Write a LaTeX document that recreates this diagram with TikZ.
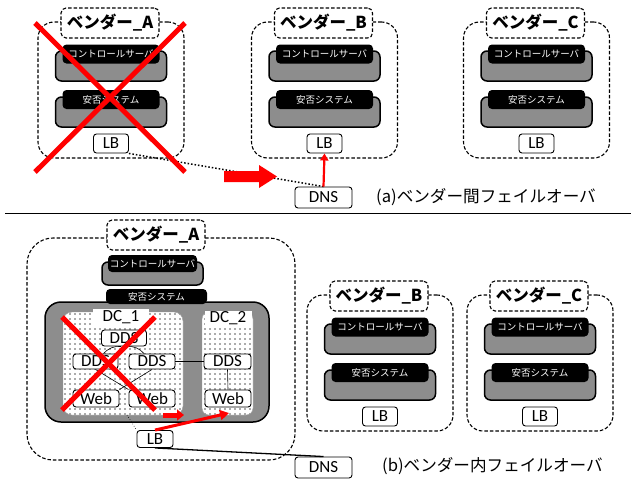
\documentclass[tikz,border=0pt]{standalone}
\usepackage{fontspec}
\setmainfont{Carlito}
\newfontfamily\jp{Noto Sans CJK JP}
\usetikzlibrary{patterns.meta,arrows.meta}
\tikzset{
 vbox/.style={draw, dash pattern=on 3.5pt off 2pt, line width=1.1pt, rounded corners=16pt, inner sep=0pt},
 vlabel/.style={draw, dash pattern=on 3.5pt off 2pt, line width=1.1pt, rounded corners=5pt, fill=white, inner sep=0pt, font=\jp\bfseries\fontsize{16.5}{16.5}\selectfont},
 gblock/.style={draw, line width=1.5pt, rounded corners=6pt, inner sep=0pt, preaction={fill=black!55}, pattern={Dots[radius=0.6pt,distance=2pt]}, pattern color=black!10},
 bbar/.style={fill=black, rounded corners=4pt, inner sep=0pt, text=white, font=\jp\fontsize{9.5}{10}\selectfont},
 sbox/.style={draw, line width=0.9pt, rounded corners=3pt, fill=white, inner sep=0pt, font=\fontsize{17}{17}\selectfont},
 dcarea/.style={draw=black!40, line width=0.4pt, rounded corners=9pt, inner sep=0pt, preaction={fill=white}, pattern={Dots[radius=0.9pt,distance=5pt]}, pattern color=black!65},
 dclabel/.style={fill=white, inner sep=0pt, font=\fontsize{17}{17}\selectfont},
 redx/.style={red, line width=5pt},
 caption/.style={anchor=west, inner sep=0pt, font=\jp\fontsize{16.6}{16.6}\selectfont},
 link/.style={line width=0.6pt}
}
\newcommand\smallvendor[4]{%
 \node[vbox, minimum width=146pt, minimum height=136pt] (#1box) at (#2,#3+68) {};
 \node[vlabel, minimum width=98pt, minimum height=30pt] (#1lab) at (#2-1,#3+1) {ベンダー\_#4};
 \node[gblock, minimum width=111pt, minimum height=30pt] (#1cs) at (#2,#3+44) {};
 \node[bbar, minimum width=97pt, minimum height=19pt] (#1csl) at (#2,#3+32) {コントロールサーバ};
 \node[gblock, minimum width=111pt, minimum height=30pt] (#1an) at (#2,#3+90) {};
 \node[bbar, minimum width=97pt, minimum height=19pt] (#1anl) at (#2,#3+77.5) {安否システム};
 \node[sbox, minimum width=35pt, minimum height=19pt] (#1lb) at (#2,#3+121.5) {LB};
}
\begin{document}
\begin{tikzpicture}[x=1pt,y=-1pt]
\useasboundingbox (0,0) rectangle (636,479);
% ---------- (a) ----------
\smallvendor{ta}{111}{22}{A}
\smallvendor{tb}{324.5}{22}{B}
\smallvendor{tc}{536.5}{22}{C}
\node[sbox, minimum width=57pt, minimum height=21pt] (tdns) at (323.5,197.5) {DNS};
\draw[line width=1.5pt, dotted] (talb.south east) -- (tdns.north);
\fill[red] (224,171) -- (259,171) -- (259,165) -- (277,176.5) -- (259,188) -- (259,182) -- (224,182) -- cycle;
\draw[red, line width=2.2pt, -{Triangle[length=7pt,width=8pt]}] (tdns.north) -- (tblb.south);
\draw[redx] (35,23) -- (185,172);
\draw[redx] (185,23) -- (35,172);
\node[caption] (capa) at (376,197) {(a)ベンダー間フェイルオーバ};
\coordinate (sepl) at (5,213);
\coordinate (sepr) at (631,213);
\draw[line width=0.8pt] (sepl) -- (sepr);
% ---------- (b) ----------
\node[vbox, rounded corners=26pt, minimum width=268pt, minimum height=222pt] (babox) at (161,349) {};
\node[vlabel, minimum width=98pt, minimum height=30pt] (balab) at (156,235) {ベンダー\_A};
\node[gblock, minimum width=101pt, minimum height=23pt] (bacs) at (152.5,273.5) {};
\node[bbar, minimum width=89pt, minimum height=17pt] (bacsl) at (152.5,263.5) {コントロールサーバ};
\node[gblock, rounded corners=16pt, minimum width=224pt, minimum height=120pt] (baan) at (157,362) {};
\node[bbar, minimum width=101pt, minimum height=15pt] (baanl) at (156.5,296.5) {安否システム};
\node[dcarea, minimum width=120pt, minimum height=103pt] (dc1) at (123,363.5) {};
\node[dcarea, rounded corners=7pt, minimum width=51pt, minimum height=103pt] (dc2) at (227.5,363.5) {};
\node[dclabel, minimum width=56pt, minimum height=16pt] (dc1l) at (121,317) {DC\_1};
\node[dclabel, minimum width=47pt, minimum height=14pt] (dc2l) at (228,318) {DC\_2};
\node[sbox, minimum width=45pt, minimum height=16pt] (ddst) at (124,338) {DDS};
\node[sbox, minimum width=45pt, minimum height=15pt] (ddsl) at (95.5,361.5) {DDS};
\node[sbox, minimum width=46pt, minimum height=15pt] (ddsr) at (152,361.5) {DDS};
\node[sbox, minimum width=46pt, minimum height=17pt] (webl) at (96,398.5) {Web};
\node[sbox, minimum width=46pt, minimum height=17pt] (webr) at (152,398.5) {Web};
\node[sbox, minimum width=47pt, minimum height=15pt] (dds2) at (227.5,361.5) {DDS};
\node[sbox, minimum width=46pt, minimum height=17pt] (web2) at (228,398.5) {Web};
\draw[link] (ddst.250) to[bend right=25] (ddsl.45);
\draw[link] (ddst.290) to[bend left=25] (ddsr.135);
\draw[link] (ddsl.south) -- (webr.north west);
\draw[link] (ddsr.south) -- (webl.north east);
\draw[link] (ddsr.east) -- (dds2.west);
\draw[link] (dds2.south) -- (web2.north);
\draw[redx] (62,317) -- (155,410);
\draw[redx] (155,317) -- (62,410);
\node[sbox, minimum width=36pt, minimum height=17pt] (blb) at (155,439) {LB};
\node[sbox, minimum width=57pt, minimum height=21pt] (bdns) at (323.5,467.5) {DNS};
\coordinate (dc1b) at (127,415);
\coordinate (redtip) at (229,413);
\coordinate (sa) at (163,415);
\coordinate (sb) at (184,415);
\draw[line width=0.6pt, dotted] (dc1b) -- (blb.north west);
\draw[red, line width=5pt, -{Triangle[length=7pt,width=11pt]}] (sa) -- (sb);
\draw[red, line width=3pt, -{Triangle[length=9pt,width=10pt]}] (blb.north) -- (redtip);
\draw[line width=1.3pt] (blb.south) -- (bdns.north);
\smallvendor{bb}{380}{295}{B}
\smallvendor{bc}{540}{295}{C}
\node[caption] (capb) at (382,466) {(b)ベンダー内フェイルオーバ};
\end{tikzpicture}
\end{document}
